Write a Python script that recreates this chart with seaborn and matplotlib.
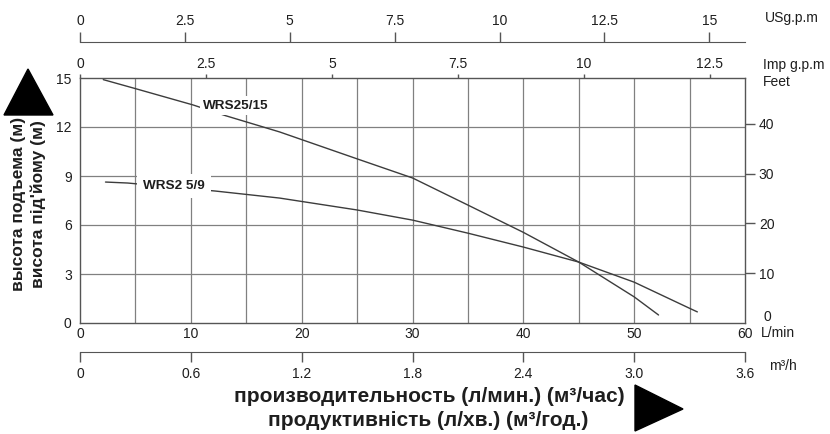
import numpy as np
import pandas as pd
import matplotlib.pyplot as plt
from matplotlib.patches import Polygon
import seaborn as sns

# pump curves: flow (L/min) vs head (m)
q_wrs25_15 = [2.1, 5.0, 10.2, 13.1, 18.0, 25.0, 30.0, 35.0, 40.0, 45.0, 50.0, 52.2]
h_wrs25_15 = [14.9, 14.35, 13.35, 12.7, 11.7, 10.05, 8.88, 7.22, 5.55, 3.73, 1.6, 0.49]
q_wrs25_9 = [2.3, 4.3, 12.2, 18.0, 25.0, 30.0, 35.0, 40.0, 45.0, 50.0, 55.0, 55.7]
h_wrs25_9 = [8.63, 8.57, 8.08, 7.65, 6.92, 6.3, 5.5, 4.65, 3.73, 2.5, 0.9, 0.68]

lmin_ticks = [0, 10, 20, 30, 40, 50, 60]
head_ticks = [0, 3, 6, 9, 12, 15]
feet_ticks = [10, 20, 30, 40]
imp_ticks = [0, 2.5, 5, 7.5, 10, 12.5]
us_ticks = [0, 2.5, 5, 7.5, 10, 12.5, 15]
m3h_ticks = [0, 0.6, 1.2, 1.8, 2.4, 3.0, 3.6]
m3h_labels = ['0', '0.6', '1.2', '1.8', '2.4', '3.0', '3.6']

df = pd.concat([
    pd.DataFrame({'Q': q_wrs25_15, 'H': h_wrs25_15, 'model': 'WRS25/15'}),
    pd.DataFrame({'Q': q_wrs25_9, 'H': h_wrs25_9, 'model': 'WRS25/9'}),
])

sns.set_style('white')
plt.rcParams['font.family'] = ['Liberation Sans', 'DejaVu Sans']

W, H = 830, 434
fig = plt.figure(figsize=(8.3, 4.34), dpi=100)
ax = fig.add_axes([80 / W, (H - 323) / H, 665 / W, 245 / H])

def px(x, y):
    return x / W, 1 - y / H

grid_c = '#808080'
ink = '#1e1e1e'

sns.lineplot(data=df, x='Q', y='H', units='model', estimator=None, sort=False,
             color='#3c3c3c', lw=1.0, ax=ax, legend=False)

ax.set_xlim(0, 60)
ax.set_ylim(0, 15)
for v in np.arange(5, 60, 5):
    ax.axvline(v, color=grid_c, lw=0.9, zorder=0)
for v in [3, 6, 9, 12]:
    ax.axhline(v, color=grid_c, lw=0.9, zorder=0)
for s in ax.spines.values():
    s.set_color('#555555')
    s.set_linewidth(1.0)

ax.set_xticks(lmin_ticks)
ax.set_yticks(head_ticks)
ax.tick_params(axis='both', length=0, labelsize=10, colors=ink)
ax.tick_params(axis='x', pad=3)
ax.tick_params(axis='y', pad=6)
ax.set_xlabel('')
ax.set_ylabel('')

ax.text(11.1, 13.3, 'WRS25/15', fontsize=9.7, fontweight='bold', color=ink, va='center',
        bbox=dict(facecolor='white', edgecolor='none', pad=2.5))
ax.text(5.7, 8.4, 'WRS2 5/9', fontsize=9.7, fontweight='bold', color=ink, va='center',
        bbox=dict(facecolor='white', edgecolor='none', pad=4.5))

# right feet axis
axr = ax.twinx()
axr.set_ylim(0, 15 / 0.3048)
axr.set_yticks(feet_ticks)
axr.tick_params(axis='y', length=7, width=1, labelsize=10, pad=3,
                colors='#555555', labelcolor=ink)
for s in axr.spines.values():
    s.set_visible(False)

# Imp g.p.m on top of box
imp = ax.secondary_xaxis('top', functions=(lambda x: x / 4.546, lambda x: x * 4.546))
imp.set_xticks(imp_ticks)
imp.set_xticklabels([f'{t:g}' for t in imp_ticks])
imp.tick_params(length=3, width=1, color='#555555', labelsize=10, pad=2, labelcolor=ink)
imp.spines['top'].set_visible(False)

# US g.p.m line above
us = ax.secondary_xaxis(1.147, functions=(lambda x: x / 3.785, lambda x: x * 3.785))
us.set_xticks(us_ticks)
us.set_xticklabels([f'{t:g}' for t in us_ticks])
us.tick_params(length=7, width=1, color='#555555', labelsize=10, pad=3, labelcolor=ink)
us.spines['top'].set_color('#555555')

# m3/h line below
m3 = ax.secondary_xaxis(-0.118, functions=(lambda x: x * 0.06, lambda x: x / 0.06))
m3.set_xticks(m3h_ticks)
m3.set_xticklabels(m3h_labels)
m3.tick_params(length=7, width=1, color='#555555', labelsize=10, pad=4, labelcolor=ink)
m3.spines['bottom'].set_color('#555555')

# unit labels
fig.text(*px(765, 18), 'USg.p.m', fontsize=10, color=ink, va='center')
fig.text(*px(763, 65), 'Imp g.p.m', fontsize=10, color=ink, va='center')
fig.text(*px(763, 82), 'Feet', fontsize=10, color=ink, va='center')
fig.text(*px(763, 317), '0', fontsize=10, color=ink, va='center')
fig.text(*px(761, 333), 'L/min', fontsize=10, color=ink, va='center')
fig.text(*px(769, 366), 'm³/h', fontsize=10, color=ink, va='center')

# axis titles
fig.text(*px(429, 396), 'производительность (л/мин.) (м³/час)', fontsize=15,
         fontweight='bold', color=ink, ha='center', va='center')
fig.text(*px(428, 421), 'продуктивність (л/хв.) (м³/год.)', fontsize=15,
         fontweight='bold', color=ink, ha='center', va='center')
fig.text(*px(19, 204), 'высота подъема (м)', fontsize=12.5, fontweight='bold',
         color=ink, ha='center', va='center', rotation=90)
fig.text(*px(38, 204), 'висота під\'йому (м)', fontsize=12.5, fontweight='bold',
         color=ink, ha='center', va='center', rotation=90)

# arrow triangles
fig.add_artist(Polygon([px(4, 115), px(53, 115), px(28, 69)], closed=True,
                       transform=fig.transFigure, color='black'))
fig.add_artist(Polygon([px(635, 385), px(635, 431), px(683, 409)], closed=True,
                       transform=fig.transFigure, color='black'))

fig.savefig('out.png', dpi=100, facecolor='white')
